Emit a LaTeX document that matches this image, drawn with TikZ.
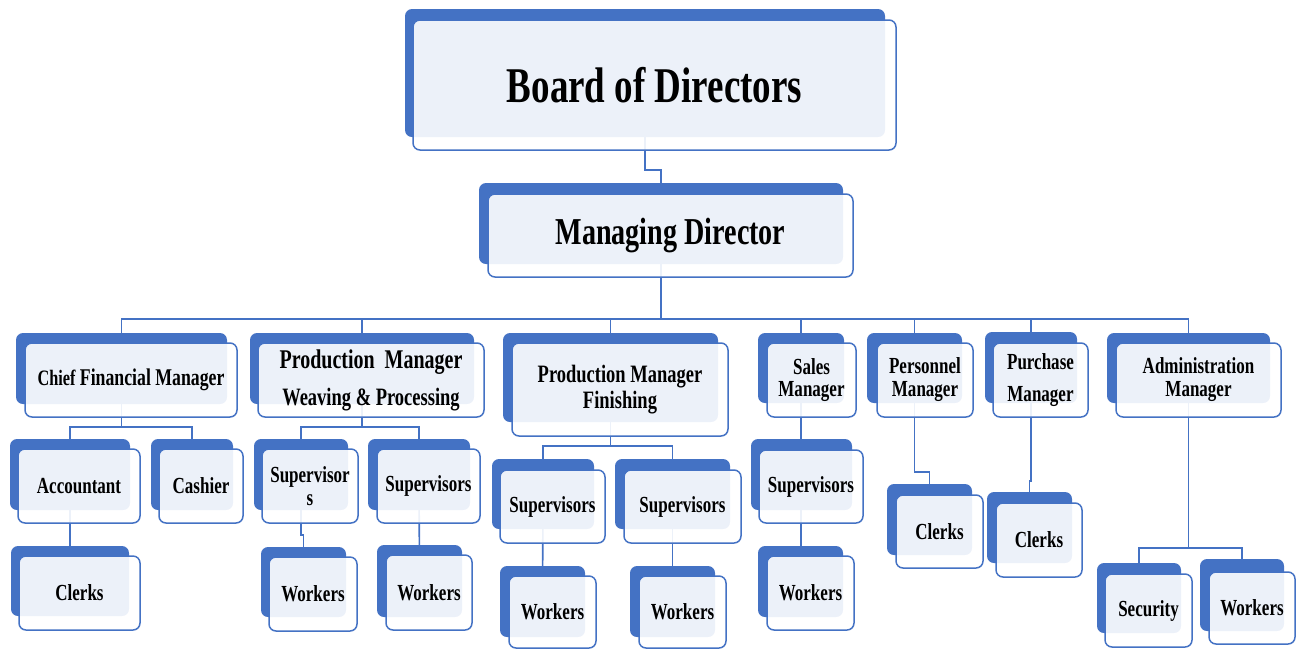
\documentclass[tikz,border=0pt]{standalone}
\usepackage{fontspec}
\setmainfont[FakeStretch=0.74]{Liberation Serif}
\usetikzlibrary{fit}
\pgfdeclarelayer{bg}
\pgfsetlayers{bg,main}
\definecolor{accblue}{HTML}{4472C4}
\tikzset{
  backbox/.style={fill=accblue, rounded corners=7pt, inner sep=0pt},
  frontbox/.style={draw=accblue, line width=1.5pt, fill=white, fill opacity=0.9,
    rounded corners=7pt, inner sep=0pt},
  boxtext/.style={inner sep=0pt, align=center},
  conn/.style={draw=accblue, line width=1.6pt},
}
\newcommand\obox[7]{%
  \coordinate (#1-bnw) at #2; \coordinate (#1-bse) at #3;
  \coordinate (#1-fnw) at #4; \coordinate (#1-fse) at #5;
  \node[backbox, fit=(#1-bnw)(#1-bse)] (#1-b) {};
  \node[frontbox, fit=(#1-fnw)(#1-fse)] (#1) {};
  \node[boxtext, font={\bfseries#6}] (#1-t) at (#1.center) {#7};
}
\begin{document}
\begin{tikzpicture}[x=1pt,y=-1pt]
\useasboundingbox (0,0) rectangle (1297,649);
\obox{bod}{(405,9)}{(885,137)}{(413,20)}{(896,150)}{\fontsize{50}{50}\selectfont}{Board of Directors}
\obox{md}{(479,183)}{(843,264)}{(488,194)}{(853,277)}{\fontsize{38}{38}\selectfont}{Managing Director}
\obox{cfm}{(16,333)}{(227,404)}{(25,343)}{(237,417)}{\fontsize{24}{24}\selectfont}{{\fontsize{22}{22}\selectfont Chief} Financial Manager}
\obox{pmw}{(250,333)}{(474,404)}{(258,343)}{(484,417)}{\fontsize{27}{37}\selectfont}{Production\ \ Manager\\{\fontsize{25}{37}\selectfont Weaving \& Processing}}
\obox{pmf}{(503,333)}{(718,422)}{(512,343)}{(728,436)}{\fontsize{25}{26.7}\selectfont}{Production Manager\\Finishing}
\obox{sales}{(758,333)}{(844,403)}{(767,343)}{(856,417)}{\fontsize{23}{22}\selectfont}{Sales\\Manager}
\obox{pers}{(867,333)}{(962,403)}{(877,343)}{(973,417)}{\fontsize{23}{23}\selectfont}{Personnel\\Manager}
\obox{purch}{(985,332)}{(1077,403)}{(993,343)}{(1088,417)}{\fontsize{23}{31.7}\selectfont}{Purchase\\Manager}
\obox{admin}{(1107,333)}{(1270,403)}{(1116,343)}{(1281,417)}{\fontsize{23}{23}\selectfont}{Administration\\Manager}
\obox{acc}{(10,439)}{(130,510)}{(18,449)}{(140,523)}{\fontsize{23}{23}\selectfont}{Accountant}
\obox{cash}{(151,439)}{(233,510)}{(159,449)}{(243,523)}{\fontsize{23}{23}\selectfont}{Cashier}
\obox{clka}{(11,546)}{(129,616)}{(19,556)}{(140,630)}{\fontsize{23}{23}\selectfont}{Clerks}
\obox{sups}{(254,439)}{(348,510)}{(262,449)}{(358,523)}{\fontsize{23}{23.3}\selectfont}{Supervisor\\s}
\obox{supt}{(368,439)}{(470,510)}{(377,449)}{(480,523)}{\fontsize{23}{23}\selectfont}{Supervisors}
\obox{wka}{(261,547)}{(346,617)}{(269,557)}{(357,631)}{\fontsize{23}{23}\selectfont}{Workers}
\obox{wkb}{(377,545)}{(462,617)}{(386,555)}{(472,630)}{\fontsize{23}{23}\selectfont}{Workers}
\obox{supa}{(492,459)}{(594,529)}{(500,470)}{(605,543)}{\fontsize{23}{23}\selectfont}{Supervisors}
\obox{supb}{(615,459)}{(730,529)}{(624,470)}{(741,543)}{\fontsize{23}{23}\selectfont}{Supervisors}
\obox{wkc}{(500,566)}{(585,637)}{(509,576)}{(596,648)}{\fontsize{23}{23}\selectfont}{Workers}
\obox{wkd}{(630,566)}{(715,637)}{(639,576)}{(726,648)}{\fontsize{23}{23}\selectfont}{Workers}
\obox{ssup}{(751,439)}{(852,510)}{(759,450)}{(863,523)}{\fontsize{23}{23}\selectfont}{Supervisors}
\obox{swk}{(758,546)}{(843,617)}{(767,556)}{(854,630)}{\fontsize{23}{23}\selectfont}{Workers}
\obox{clkp}{(887,484)}{(972,555)}{(896,495)}{(983,568)}{\fontsize{23}{23}\selectfont}{Clerks}
\obox{clkq}{(987,492)}{(1072,563)}{(996,503)}{(1082,577)}{\fontsize{23}{23}\selectfont}{Clerks}
\obox{sec}{(1097,563)}{(1181,633)}{(1105,574)}{(1192,647)}{\fontsize{23}{23}\selectfont}{Security}
\obox{awk}{(1200,559)}{(1284,631)}{(1209,572)}{(1295,644)}{\fontsize{23}{23}\selectfont}{Workers}
\begin{pgfonlayer}{bg}
  \coordinate (j2) at (661,170);
  \draw[conn] (bod-b) |- (j2) -- (md-b);
  \coordinate (bus) at (0,319);
  \draw[conn] (md-b) -- (md-b |- bus);
  \draw[conn] (cfm-b) -- (cfm-b |- bus) -- (admin-b |- bus) -- (admin-b);
  \foreach \n in {pmw,pmf,sales,pers,purch} \draw[conn] (\n-b) -- (\n-b |- bus);
  \coordinate (lvl2) at (0,427);
  \draw[conn] (cfm-b) -- (cfm-b |- lvl2);
  \draw[conn] (acc-b) |- (lvl2 -| cash-b) -- (cash-b);
  \draw[conn] (acc-b) -- (clka-b);
  \draw[conn] (pmw-b) -- (pmw-b |- lvl2);
  \draw[conn] (sups-b) |- (lvl2 -| supt-b) -- (supt-b);
  \coordinate (jog1) at (0,535);
  \draw[conn] (sups-b) |- (jog1 -| wka-b) -- (wka-b);
  \draw[conn] (supt-b) -- (wkb-b);
  \coordinate (lvl3) at (0,446);
  \draw[conn] (pmf-b) -- (pmf-b |- lvl3);
  \draw[conn] (supa-b) |- (lvl3 -| supb-b) -- (supb-b);
  \draw[conn] (supa-b) -- (wkc-b);
  \draw[conn] (supb-b) -- (wkd-b);
  \draw[conn] (sales-b) -- (sales-b |- swk-b);
  \coordinate (jog2) at (0,472);
  \draw[conn] (pers-b) |- (jog2 -| clkp-b) -- (clkp-b);
  \coordinate (jog3) at (0,481);
  \draw[conn] (purch-b) |- (jog3 -| clkq-b) -- (clkq-b);
  \coordinate (lvl4) at (0,548);
  \draw[conn] (admin-b) -- (admin-b |- lvl4);
  \draw[conn] (sec-b) |- (lvl4 -| awk-b) -- (awk-b);
\end{pgfonlayer}
\end{tikzpicture}
\end{document}
